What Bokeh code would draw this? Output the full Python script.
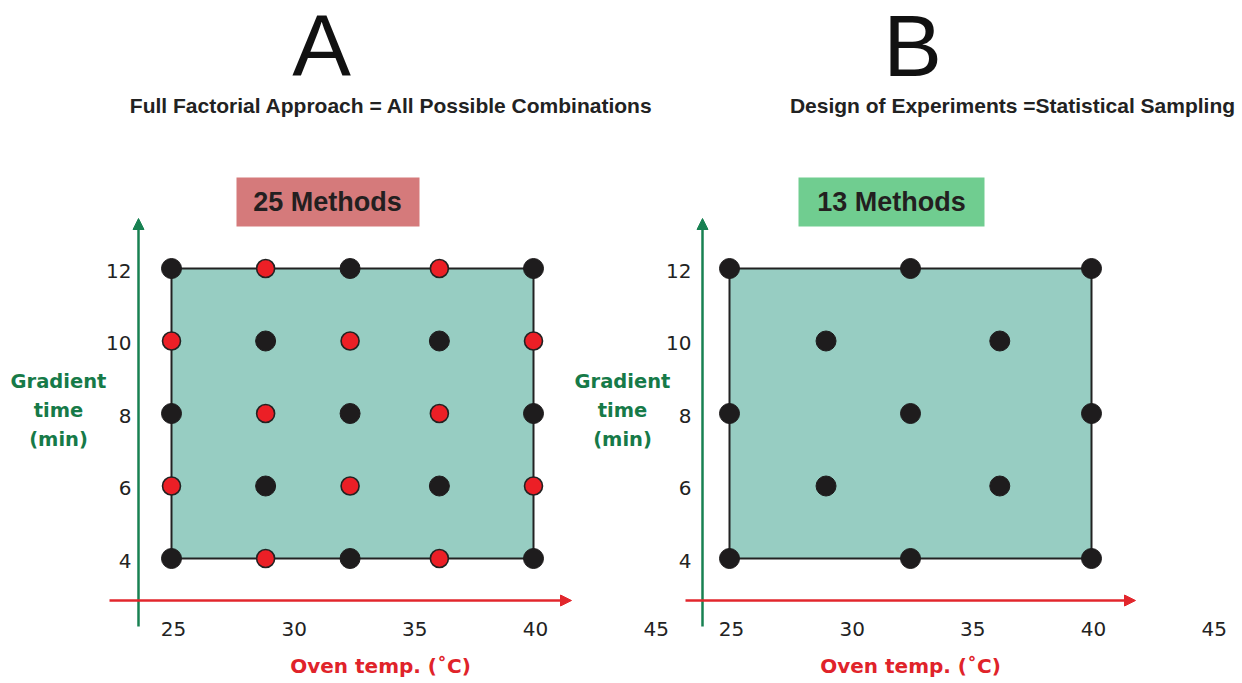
from bokeh.plotting import figure
from bokeh.models import Range1d, Label, Arrow, NormalHead, BoxAnnotation
from bokeh.core.properties import value
from bokeh.embed import file_html
from bokeh.resources import INLINE

# ---------------- data ----------------
x_ticks = [25, 30, 35, 40, 45]
y_ticks = [4, 6, 8, 10, 12]
x_tick_labels = ["25", "30", "35", "40", "45"]
y_tick_labels = ["4", "6", "8", "10", "12"]

# Panel A: full factorial (25 methods)
a_black_x = [25, 32.4, 40, 28.9, 36.1, 25, 32.4, 40, 28.9, 36.1, 25, 32.4, 40]
a_black_y = [12, 12, 12, 10, 10, 8, 8, 8, 6, 6, 4, 4, 4]
a_red_x = [28.9, 36.1, 25, 32.4, 40, 28.9, 36.1, 25, 32.4, 40, 28.9, 36.1]
a_red_y = [12, 12, 10, 10, 10, 8, 8, 6, 6, 6, 4, 4]

# Panel B: design of experiments (13 methods)
b_x = [25, 32.5, 40, 29.0, 36.2, 25, 32.5, 40, 29.0, 36.2, 25, 32.5, 40]
b_y = [12, 12, 12, 10, 10, 8, 8, 8, 6, 6, 4, 4, 4]

# ---------------- styles ----------------
TEAL = "#97cdc2"
PT_BLACK = "#1e1c1d"
PT_RED = "#ec1f26"
BOX_RED = "#d57a7b"
BOX_GREEN = "#70cd90"
AX_GREEN = "#188152"
AX_RED = "#e2262c"
TXT_GREEN = "#167a48"
TXT_RED = "#e0232a"

W, H = 1238, 680
SX = 362 / 15.0   # px per degree
SY = 290 / 8.0    # px per minute
X0_A, X0_B, Y_TOP, Y_BOT = 171, 729, 268, 558   # where 25 degC / 12 and 4 min sit

p = figure(width=W, height=H,
           x_range=Range1d(25 - X0_A / SX, 25 + (W - X0_A) / SX),
           y_range=Range1d(4 - (H - Y_BOT) / SY, 12 + Y_TOP / SY),
           x_axis_type=None, y_axis_type=None,
           output_backend="svg", toolbar_location=None, min_border=0)
p.extra_x_ranges = {"B": Range1d(25 - X0_B / SX, 25 + (W - X0_B) / SX)}
p.outline_line_color = None
p.background_fill_color = "white"
p.border_fill_color = "white"


def sx(xr):
    return xr


def sy(yr):
    return H - yr


def panel(xs_all, ys_all, range_name, black_x, black_y, red_x=None, red_y=None):
    kw = {} if range_name is None else {"x_range_name": range_name}
    p.quad(left=[min(xs_all)], right=[max(xs_all)], bottom=[min(ys_all)], top=[max(ys_all)],
           fill_color=TEAL, line_color="#222222", line_width=2, **kw)
    p.scatter(black_x, black_y, size=20, fill_color=PT_BLACK, line_color=PT_BLACK, line_width=1, **kw)
    if red_x:
        p.scatter(red_x, red_y, size=18, fill_color=PT_RED, line_color="#222222", line_width=1.6, **kw)
    # x tick labels
    p.text(x=x_ticks, y=[min(y_ticks) - 70 / SY] * len(x_ticks), text=x_tick_labels,
           text_font=value("DejaVu Sans"), text_font_size="20px", text_color="#222222",
           text_align="center", text_baseline="middle", x_offset=2, **kw)


panel(a_black_x + a_red_x, a_black_y + a_red_y, None, a_black_x, a_black_y, a_red_x, a_red_y)
panel(b_x, b_y, "B", b_x, b_y)

# y tick labels
p.text(x=[25 - 40 / SX] * len(y_ticks), y=[v - 2 / SY for v in y_ticks], text=y_tick_labels,
       text_font=value("DejaVu Sans"), text_font_size="20px", text_color="#222222",
       text_align="right", text_baseline="middle")
p.text(x=[25 - 38 / SX] * len(y_ticks), y=[v - 2 / SY for v in y_ticks], text=y_tick_labels,
       text_font=value("DejaVu Sans"), text_font_size="20px", text_color="#222222",
       text_align="right", text_baseline="middle", x_range_name="B")

# axis arrows (screen units)
for gx, r0, r1 in [(138, 109, 571), (702, 685, 1135)]:
    p.add_layout(Arrow(x_start=sx(gx), y_start=sy(626), x_end=sx(gx), y_end=sy(218),
                       start_units="screen", end_units="screen",
                       line_color=AX_GREEN, line_width=2.5,
                       end=NormalHead(size=11, fill_color=AX_GREEN, line_color=AX_GREEN)))
    p.add_layout(Arrow(x_start=sx(r0), y_start=sy(600), x_end=sx(r1), y_end=sy(600),
                       start_units="screen", end_units="screen",
                       line_color=AX_RED, line_width=2.5,
                       end=NormalHead(size=11, fill_color=AX_RED, line_color=AX_RED)))

# method boxes
for l, r, col in [(236, 419, BOX_RED), (798, 984, BOX_GREEN)]:
    p.add_layout(BoxAnnotation(left=sx(l), right=sx(r), top=sy(177), bottom=sy(226),
                               left_units="screen", right_units="screen",
                               top_units="screen", bottom_units="screen",
                               fill_color=col, fill_alpha=1, line_color=None))


def lab(text, xr, yr, size, color="#111111", font="Liberation Sans", style="bold",
        align="center", baseline="middle"):
    p.add_layout(Label(x=sx(xr), y=sy(yr), x_units="screen", y_units="screen", text=text,
                       text_font=font, text_font_size=size, text_font_style=style,
                       text_color=color, text_align=align, text_baseline=baseline))


lab("25 Methods", 327, 201, "27px", color="#231f20")
lab("13 Methods", 891, 201, "27px", color="#231f20")

lab("A", 321, 45, "88px", style="normal")
lab("B", 912, 45, "88px", style="normal")
lab("Full Factorial Approach = All Possible Combinations", 391, 105, "21px", color="#222222")
lab("Design of Experiments =Statistical Sampling", 1012, 105, "21px", color="#222222")

for cx in (58, 622):
    lab("Gradient", cx, 381, "19.5px", color=TXT_GREEN, font="DejaVu Sans")
    lab("time", cx, 410, "19.5px", color=TXT_GREEN, font="DejaVu Sans")
    lab("(min)", cx, 439, "19.5px", color=TXT_GREEN, font="DejaVu Sans")

lab("Oven temp. (˚C)", 380, 665, "20px", color=TXT_RED, font="DejaVu Sans")
lab("Oven temp. (˚C)", 910, 665, "20px", color=TXT_RED, font="DejaVu Sans")

open("out.html", "w").write(file_html(p, INLINE))
